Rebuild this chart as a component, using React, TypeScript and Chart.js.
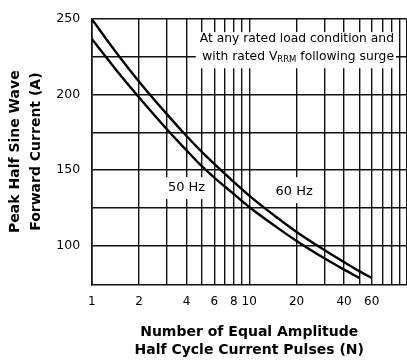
import React, { useEffect, useRef } from 'react';
import { Chart, registerables } from 'chart.js';

Chart.register(...registerables);

// Number of pulses (N) and peak current (A)
const pulses60 = [1, 1.5, 2, 3, 4, 5, 6, 8, 10, 15, 20, 30, 40, 50, 60];
const current60 = [250, 225, 208.5, 187, 172.5, 162, 154, 142, 133, 118.5, 109, 97, 89, 83, 78.5];
const pulses50 = [1, 1.5, 2, 3, 4, 5, 6, 8, 10, 15, 20, 30, 40, 50];
const current50 = [237, 213.5, 198, 177, 163, 152.5, 145, 134, 125.5, 112, 103, 91.5, 84, 78.5];

const xGridValues = [1, 2, 3, 4, 5, 6, 7, 8, 9, 10, 20, 30, 40, 50, 60, 70, 80, 90, 100];
const xTickLabels = [1, 2, 4, 6, 8, 10, 20, 40, 60];
const yGridValues = [100, 125, 150, 175, 200, 225, 250];
const yTickLabels = [100, 150, 200, 250];

const curveLabels = [
  { text: '50 Hz', x: 4.0, y: 138 },
  { text: '60 Hz', x: 19.3, y: 136 },
];
const noteLine1 = 'At any rated load condition and';
const noteLine2a = 'with rated V';
const noteLine2sub = 'RRM';
const noteLine2b = ' following surge';
const noteAnchor = { x: 83, y1: 237, y2: 225 };

const FONT = '"DejaVu Sans", sans-serif';

const notesPlugin = {
  id: 'notes',
  beforeDatasetsDraw(chart: any) {
    const { ctx } = chart;
    const xs = chart.scales.x;
    const ys = chart.scales.y;
    ctx.save();
    ctx.textBaseline = 'middle';

    // curve labels
    ctx.font = `13px ${FONT}`;
    curveLabels.forEach((l, i) => {
      const cx = xs.getPixelForValue(l.x);
      const cy = ys.getPixelForValue(l.y);
      const w = ctx.measureText(l.text).width;
      ctx.fillStyle = '#fff';
      const h = i === 0 ? 22 : 26;
      ctx.fillRect(cx - w / 2 - 2, cy - h / 2 + (i === 0 ? 0 : -1), w + 4, h);
      ctx.fillStyle = '#000';
      ctx.textAlign = 'center';
      ctx.fillText(l.text, cx, cy);
    });

    // note box
    const right = xs.getPixelForValue(noteAnchor.x);
    const y1 = ys.getPixelForValue(noteAnchor.y1);
    const y2 = ys.getPixelForValue(noteAnchor.y2);
    const mainFont = `12.3px ${FONT}`;
    const subFont = `8.5px ${FONT}`;
    ctx.font = mainFont;
    const w1 = ctx.measureText(noteLine1).width;
    const wa = ctx.measureText(noteLine2a).width;
    const wb = ctx.measureText(noteLine2b).width;
    ctx.font = subFont;
    const ws = ctx.measureText(noteLine2sub).width;
    const w2 = wa + ws + wb;
    const wMax = Math.max(w1, w2);
    ctx.fillStyle = '#fff';
    ctx.fillRect(right - wMax - 4, y1 - 6.5, wMax + 6, y2 - y1 + 18);
    ctx.fillStyle = '#000';
    ctx.textAlign = 'left';
    ctx.font = mainFont;
    ctx.fillText(noteLine1, right - w1, y1);
    let px = right - w2;
    ctx.fillText(noteLine2a, px, y2);
    px += wa;
    ctx.font = subFont;
    ctx.fillText(noteLine2sub, px, y2 + 3.5);
    px += ws;
    ctx.font = mainFont;
    ctx.fillText(noteLine2b, px, y2);
    ctx.restore();
  },
};

export default function App() {
  const ref = useRef<HTMLCanvasElement>(null);

  useEffect(() => {
    if (!ref.current) return;
    const chart = new Chart(ref.current, {
      type: 'line',
      data: {
        datasets: [
          {
            label: '60 Hz',
            data: pulses60.map((n, i) => ({ x: n, y: current60[i] })),
            borderColor: '#000',
            borderWidth: 2.4,
            pointRadius: 0,
            fill: false,
            cubicInterpolationMode: 'monotone',
          },
          {
            label: '50 Hz',
            data: pulses50.map((n, i) => ({ x: n, y: current50[i] })),
            borderColor: '#000',
            borderWidth: 2.4,
            pointRadius: 0,
            fill: false,
            cubicInterpolationMode: 'monotone',
          },
        ],
      },
      options: {
        responsive: false,
        animation: false,
        layout: { padding: { top: 13.3, right: 0.3, left: 0, bottom: 0 } },
        plugins: { legend: { display: false }, tooltip: { enabled: false } },
        scales: {
          x: {
            type: 'logarithmic',
            min: 1,
            max: 100,
            afterBuildTicks: (s: any) => {
              s.ticks = xGridValues.map((v) => ({ value: v }));
            },
            afterFit: (s: any) => {
              s.height = 77.7;
              s.paddingLeft = 0;
              s.paddingRight = 0;
            },
            grid: { color: '#111', lineWidth: 1.4, drawTicks: false },
            border: { color: '#111', width: 1.6 },
            ticks: {
              autoSkip: false,
              maxRotation: 0,
              padding: 10,
              color: '#000',
              font: { family: FONT, size: 12 },
              callback: (v: any) => (xTickLabels.includes(Number(v)) ? String(v) : ''),
            },
            title: {
              display: true,
              text: ['Number of Equal Amplitude', 'Half Cycle Current Pulses (N)'],
              color: '#000',
              font: { family: FONT, size: 14, weight: 'bold', lineHeight: 1.3 },
              padding: { top: 0, bottom: 2.5 },
            },
          },
          y: {
            type: 'linear',
            min: 74.3,
            max: 250,
            afterBuildTicks: (s: any) => {
              s.ticks = yGridValues.map((v) => ({ value: v }));
            },
            afterFit: (s: any) => {
              s.width = 91.7;
            },
            grid: { color: '#111', lineWidth: 1.4, drawTicks: false },
            border: { color: '#111', width: 1.6 },
            ticks: {
              padding: 11.5,
              color: '#000',
              font: { family: FONT, size: 12.5 },
              callback: (v: any) => (yTickLabels.includes(Number(v)) ? String(v) : ''),
            },
            title: {
              display: true,
              text: ['Peak Half Sine Wave', 'Forward Current (A)'],
              color: '#000',
              font: { family: FONT, size: 14, weight: 'bold', lineHeight: 1.5 },
              padding: { top: 5, bottom: 0 },
            },
          },
        },
      },
      plugins: [notesPlugin],
    });
    return () => chart.destroy();
  }, []);

  return (
    <div style={{ position: 'absolute', left: 0, top: 0, width: 407, height: 362, overflow: 'hidden', background: '#fff' }}>
      <canvas ref={ref} width={407} height={362} style={{ display: 'block' }} />
    </div>
  );
}
